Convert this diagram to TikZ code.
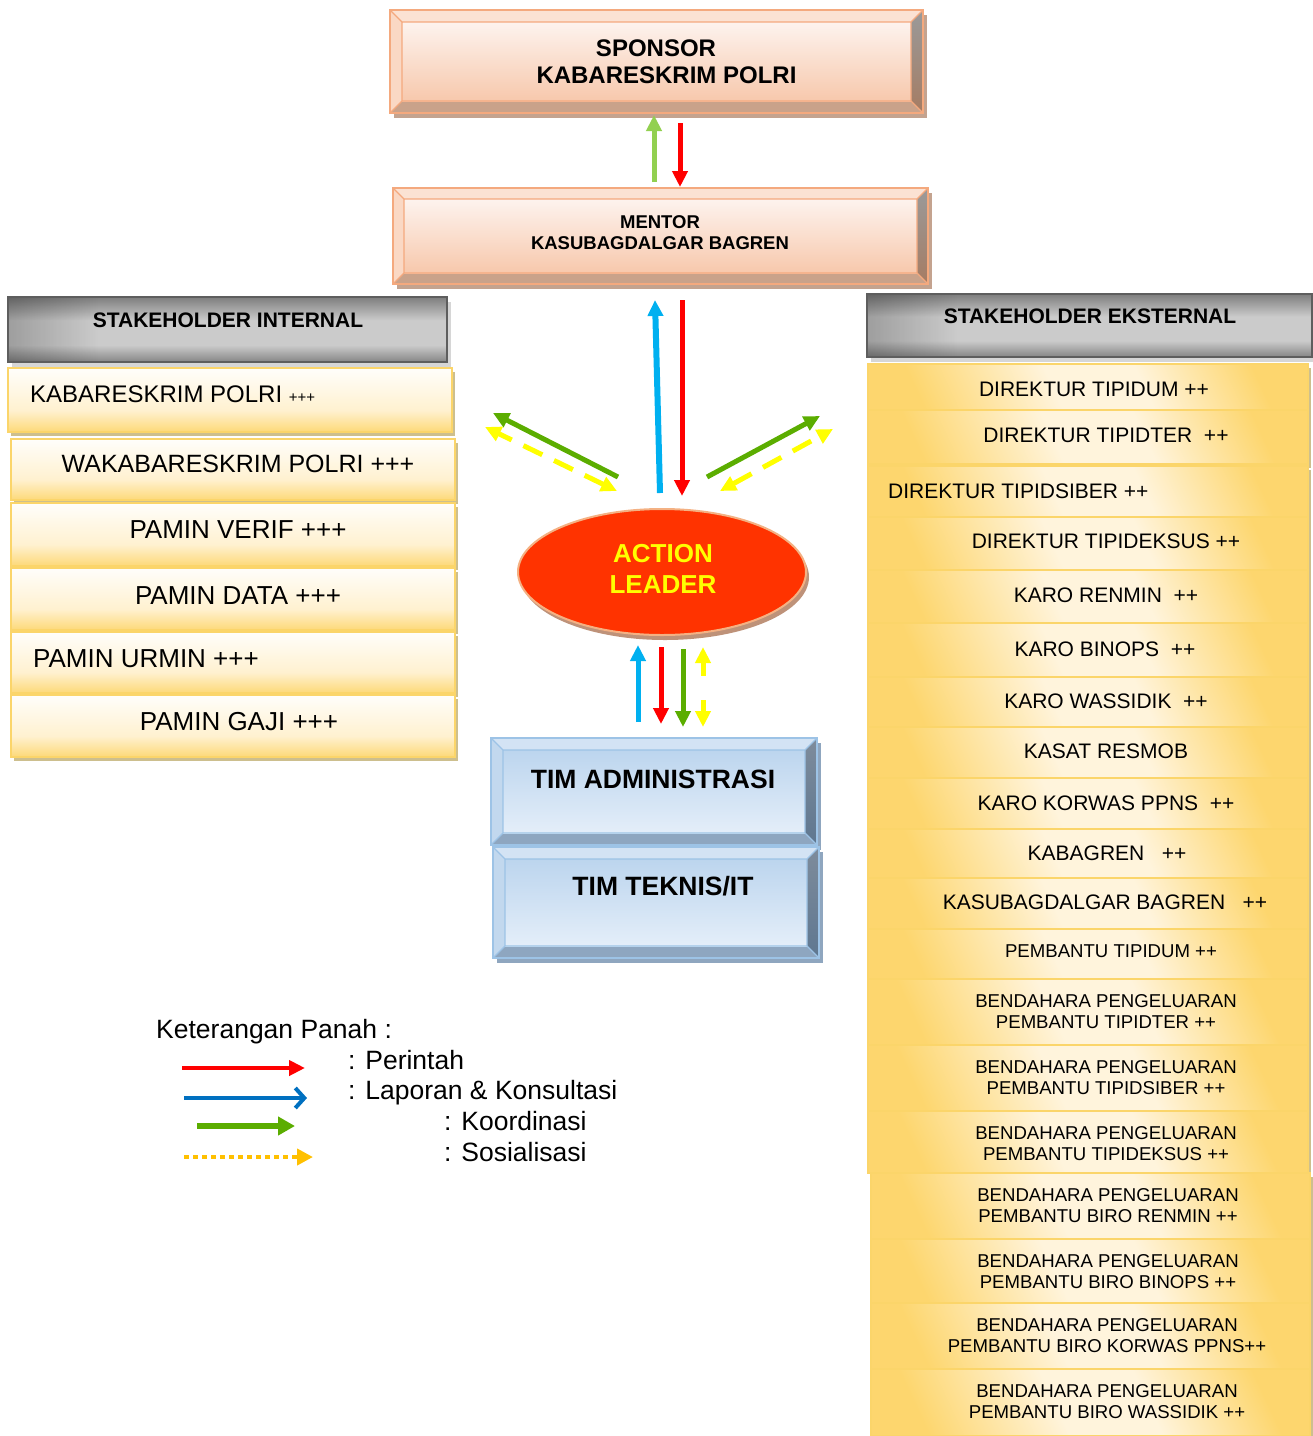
\documentclass[tikz,border=0pt]{standalone}
\usepackage{fontspec}
\setmainfont{Liberation Sans}
\usetikzlibrary{shapes.geometric,arrows.meta,calc,fadings}
\definecolor{peachSh}{HTML}{C4A38F}
\definecolor{peachTop}{HTML}{FBE2D3}
\definecolor{peachLeft}{HTML}{FAD8C4}
\definecolor{peachBot}{HTML}{C9A28A}
\definecolor{peachRightA}{HTML}{9A9A9A}
\definecolor{peachRightB}{HTML}{A57C63}
\definecolor{peachFA}{HTML}{FDF3EE}
\definecolor{peachFB}{HTML}{F7C8AC}
\definecolor{peachBd}{HTML}{F4A97E}
\definecolor{blueSh}{HTML}{8FA6BF}
\definecolor{blueTop}{HTML}{D3E3F4}
\definecolor{blueLeft}{HTML}{C2D8EE}
\definecolor{blueBot}{HTML}{8EA6C0}
\definecolor{blueRightA}{HTML}{7E8C9C}
\definecolor{blueRightB}{HTML}{5F7790}
\definecolor{blueFA}{HTML}{BCD5EE}
\definecolor{blueFB}{HTML}{E4EEF9}
\definecolor{blueBd}{HTML}{9DC3E6}
\definecolor{yTop}{HTML}{FFFEFB}
\definecolor{yMid}{HTML}{FFF1D0}
\definecolor{yBot}{HTML}{FDD978}
\definecolor{yGold}{HTML}{FDD66E}
\definecolor{yLight}{HTML}{FFF4DC}
\definecolor{yBd}{HTML}{FBD56A}
\definecolor{ySh}{HTML}{CDBF8E}
\definecolor{gA}{HTML}{7E7E7E}
\definecolor{gB}{HTML}{CBCBCB}
\definecolor{gC}{HTML}{858585}
\definecolor{gBd}{HTML}{5E5E5E}
\definecolor{gSh}{HTML}{D6D6D6}
\definecolor{alFill}{HTML}{FF3300}
\definecolor{alBd}{HTML}{F4B183}
\definecolor{alSh}{HTML}{BE9279}
\definecolor{aRed}{HTML}{FF0000}
\definecolor{aBlue}{HTML}{00B0F0}
\definecolor{aGreen}{HTML}{5BAD00}
\definecolor{aLGreen}{HTML}{92D050}
\definecolor{aYel}{HTML}{FFFF00}
\definecolor{lBlue}{HTML}{0070C0}
\definecolor{lYel}{HTML}{FFC000}

\pgfdeclareverticalshading{yint}{100bp}{color(0bp)=(yBot); color(25bp)=(yBot); color(42bp)=(yMid); color(75bp)=(yTop); color(100bp)=(yTop)}
\pgfdeclareverticalshading{ghead}{100bp}{color(0bp)=(gC); color(25bp)=(gC); color(38bp)=(gB); color(57bp)=(gB); color(75bp)=(gA); color(100bp)=(gA)}
\pgfdeclarehorizontalshading{yext}{100bp}{color(0bp)=(yGold); color(25bp)=(yGold); color(45bp)=(yLight); color(58bp)=(yLight); color(75bp)=(yGold); color(100bp)=(yGold)}
\tikzfading[name=leftdark, left color=transparent!0, right color=transparent!100]

\tikzset{
  boxnode/.style={inner sep=0, outer sep=0, draw=none},
  txt/.style={inner sep=0, align=center, text=black},
  yfillI/.style={shading=yint},
  yfillE/.style={shading=yext, shading angle=25},
  arr/.style={line width=5, -{Triangle[width=15pt,length=16pt]}},
  darr/.style={line width=5, dash pattern=on 21pt off 13pt, {Triangle[width=15pt,length=16pt]}-{Triangle[width=15pt,length=16pt]}},
}

% bevel box: #1 palette, #2 name, #3 x1, #4 y1, #5 x2, #6 y2, #7 bevel
\newcommand\bevelbox[7]{%
  \fill[#1Sh] ({#3+4},{#4+5}) rectangle ({#5+4},{#6+5});
  \fill[#1Top] (#3,#4) -- (#5,#4) -- ({#5-#7},{#4+#7}) -- ({#3+#7},{#4+#7}) -- cycle;
  \fill[#1Left] (#3,#4) -- ({#3+#7},{#4+#7}) -- ({#3+#7},{#6-#7}) -- (#3,#6) -- cycle;
  \fill[#1Bot] (#3,#6) -- ({#3+#7},{#6-#7}) -- ({#5-#7},{#6-#7}) -- (#5,#6) -- cycle;
  \shade[top color=#1RightA, bottom color=#1RightB] (#5,#4) -- (#5,#6) -- ({#5-#7},{#6-#7}) -- ({#5-#7},{#4+#7}) -- cycle;
  \shade[top color=#1FA, bottom color=#1FB] ({#3+#7},{#4+#7}) rectangle ({#5-#7},{#6-#7});
  \draw[#1Bd, line width=1.3] ({#3+#7},{#4+#7}) rectangle ({#5-#7},{#6-#7})
     (#3,#4) -- ({#3+#7},{#4+#7}) (#5,#4) -- ({#5-#7},{#4+#7})
     (#3,#6) -- ({#3+#7},{#6-#7}) (#5,#6) -- ({#5-#7},{#6-#7});
  \draw[#1Bd, line width=2.5] (#3,#4) rectangle (#5,#6);
  \node[boxnode, minimum width={#5-#3}, minimum height={#6-#4}] (#2) at ({(#3+#5)/2},{(#4+#6)/2}) {};
}
% yellow box: [#1 style], #2 name, #3 x1, #4 y1, #5 x2, #6 y2
\newcommand\ybox[6][yfillI]{%
  \fill[ySh] ({#3+3},{#4+4}) rectangle ({#5+3},{#6+4});
  \shade[#1] (#3,#4) rectangle (#5,#6);
  \draw[yBd, line width=1.5] (#3,#4) rectangle (#5,#6);
  \node[boxnode, minimum width={#5-#3}, minimum height={#6-#4}] (#2) at ({(#3+#5)/2},{(#4+#6)/2}) {};
}
% gray header: #1 name, #2 x1, #3 y1, #4 x2, #5 y2
\newcommand\grayhead[5]{%
  \fill[gSh] ({#2+4},{#3+5}) rectangle ({#4+4},{#5+5});
  \shade[shading=ghead] (#2,#3) rectangle (#4,#5);
  \fill[black, opacity=0.22, path fading=leftdark] (#2,#3) rectangle ({#2+90},{#5});
  \draw[gBd, line width=2] (#2,#3) rectangle (#4,#5);
  \node[boxnode, minimum width={#4-#2}, minimum height={#5-#3}] (#1) at ({(#2+#4)/2},{(#3+#5)/2}) {};
}

\begin{document}
\begin{tikzpicture}[x=1pt,y=-1pt]
\useasboundingbox (0,0) rectangle (1313,1436);

% ---------- top boxes ----------
\bevelbox{peach}{sponsor}{390}{10}{923}{113}{12}
\node[txt, font=\bfseries\fontsize{24}{27}\selectfont] (tsponsor) at (656,48) {SPONSOR};
\node[txt, font=\bfseries\fontsize{24}{27}\selectfont] (tsponsorb) at (666.5,75) {KABARESKRIM POLRI};
\bevelbox{peach}{mentor}{393}{188}{928}{284}{11}
\node[txt, font=\bfseries\fontsize{18.5}{21}\selectfont] (tmentor) at (660,232.5) {MENTOR\\KASUBAGDALGAR BAGREN};

% ---------- internal stakeholders ----------
\grayhead{hint}{8}{297}{447}{362}
\node[txt, font=\bfseries\fontsize{21}{24}\selectfont] (thint) at (228,320) {STAKEHOLDER INTERNAL};
\ybox{i1}{8}{368}{452}{432}
\ybox{i2}{11}{439}{455}{500}
\ybox{i3}{11}{503}{455}{566}
\ybox{i4}{11}{568}{455}{630}
\ybox{i5}{11}{632}{455}{693}
\ybox{i6}{11}{695}{455}{757}
\node[txt, anchor=west, font=\fontsize{24}{28}\selectfont] (ti1) at (30,394) {KABARESKRIM POLRI {\fontsize{15}{16}\selectfont +++}};
\node[txt, font=\fontsize{25}{28}\selectfont] (ti2) at (238,464) {WAKABARESKRIM POLRI +++};
\node[txt, font=\fontsize{26}{28}\selectfont] (ti3) at (238,530) {PAMIN VERIF +++};
\node[txt, font=\fontsize{26}{28}\selectfont] (ti4) at (238,596) {PAMIN DATA +++};
\node[txt, anchor=west, font=\fontsize{26}{28}\selectfont] (ti5) at (33,659) {PAMIN URMIN +++};
\node[txt, font=\fontsize{26}{28}\selectfont] (ti6) at (239,722) {PAMIN GAJI +++};

% ---------- external stakeholders ----------
\grayhead{hext}{867}{294}{1312}{357}
\node[txt, font=\bfseries\fontsize{21}{24}\selectfont] (thext) at (1090,316) {STAKEHOLDER EKSTERNAL};
\ybox[yfillE]{e1}{868}{364}{1308}{410}
\ybox[yfillE]{e2}{868}{410}{1308}{464}
\ybox[yfillE]{e3}{868}{466}{1308}{517}
\ybox[yfillE]{e4}{868}{517}{1308}{570}
\ybox[yfillE]{e5}{868}{570}{1308}{623}
\ybox[yfillE]{e6}{868}{623}{1308}{677}
\ybox[yfillE]{e7}{868}{677}{1308}{727}
\ybox[yfillE]{e8}{868}{727}{1308}{778}
\ybox[yfillE]{e9}{868}{778}{1308}{829}
\ybox[yfillE]{e10}{868}{829}{1308}{878}
\ybox[yfillE]{e11}{868}{878}{1308}{929}
\ybox[yfillE]{e12}{868}{929}{1308}{979}
\ybox[yfillE]{e13}{868}{979}{1308}{1045}
\ybox[yfillE]{e14}{868}{1045}{1308}{1111}
\ybox[yfillE]{e15}{868}{1111}{1308}{1173}
\ybox[yfillE]{e16}{871}{1173}{1310}{1239}
\ybox[yfillE]{e17}{871}{1239}{1310}{1303}
\ybox[yfillE]{e18}{871}{1303}{1310}{1369}
\ybox[yfillE]{e19}{871}{1369}{1310}{1436}
\begin{scope}[every node/.style={txt, font=\fontsize{21}{24}\selectfont}]
\node (te1) at (1094,389) {DIREKTUR TIPIDUM ++};
\node (te2) at (1106,435) {DIREKTUR TIPIDTER~ ++};
\node[anchor=west] (te3) at (888,491) {DIREKTUR TIPIDSIBER ++};
\node (te4) at (1106,541) {DIREKTUR TIPIDEKSUS ++};
\node (te5) at (1106,595) {KARO RENMIN~ ++};
\node (te6) at (1105,649) {KARO BINOPS~ ++};
\node (te7) at (1106,701) {KARO WASSIDIK~ ++};
\node (te8) at (1106,751) {KASAT RESMOB};
\node (te9) at (1106,803) {KARO KORWAS PPNS~ ++};
\node (te10) at (1107,853) {KABAGREN~~ ++};
\node (te11) at (1105,902) {KASUBAGDALGAR BAGREN~~ ++};
\end{scope}
\begin{scope}[every node/.style={txt, font=\fontsize{18.6}{21}\selectfont}]
\node (te12) at (1111,951) {PEMBANTU TIPIDUM ++};
\node (te13) at (1106,1011.5) {BENDAHARA PENGELUARAN\\PEMBANTU TIPIDTER ++};
\node (te14) at (1106,1077.5) {BENDAHARA PENGELUARAN\\PEMBANTU TIPIDSIBER ++};
\node (te15) at (1106,1143.5) {BENDAHARA PENGELUARAN\\PEMBANTU TIPIDEKSUS ++};
\node (te16) at (1108,1205.5) {BENDAHARA PENGELUARAN\\PEMBANTU BIRO RENMIN ++};
\node (te17) at (1108,1271.5) {BENDAHARA PENGELUARAN\\PEMBANTU BIRO BINOPS ++};
\node (te18) at (1107,1335.5) {BENDAHARA PENGELUARAN\\PEMBANTU BIRO KORWAS PPNS++};
\node (te19) at (1107,1401.5) {BENDAHARA PENGELUARAN\\PEMBANTU BIRO WASSIDIK ++};
\end{scope}

% ---------- action leader ----------
\fill[alSh] (665,577) ellipse [x radius=144, y radius=63];
\node[ellipse, draw=alBd, line width=2, fill=alFill, minimum width=288, minimum height=126, inner sep=0] (al) at (662,572) {};
\node[txt, text=aYel, font=\bfseries\fontsize{26}{31}\selectfont] (tal) at (663,568.5) {ACTION\\LEADER};

% ---------- tim boxes ----------
\bevelbox{blue}{timA}{491}{738}{817}{845}{12}
\bevelbox{blue}{timT}{493}{847}{819}{958}{12}
\node[txt, font=\bfseries\fontsize{26.5}{30}\selectfont] (ttimA) at (653,779) {TIM ADMINISTRASI};
\node[txt, font=\bfseries\fontsize{26.5}{30}\selectfont] (ttimT) at (663,886) {TIM TEKNIS/IT};

% ---------- arrows ----------
\draw[arr, aLGreen] ($(mentor.north)+(-6.5,-6)$) -- ($(sponsor.south)+(-2.5,2)$);
\draw[arr, aRed] ($(sponsor.south)+(23.5,10)$) -- ($(mentor.north)+(19.5,-1)$);

\draw[arr, aBlue, line width=6] ($(al.north)+(-2,-15)$) -- ($(mentor.south)+(-5.5,16)$);
\draw[arr, aRed] ($(mentor.south)+(21.5,16)$) -- ($(al.north)+(20,-12)$);

\draw[arr, aGreen] ($(al.north)+(-44,-31)$) -- ($(al.north)+(-169,-95)$);
\draw[darr, aYel] ($(al.north)+(-45,-17)$) -- ($(al.north)+(-177,-81)$);
\draw[arr, aGreen] ($(al.north)+(45,-31)$) -- ($(al.north)+(158,-92)$);
\draw[darr, aYel] ($(al.north)+(58,-17)$) -- ($(al.north)+(171,-79)$);

\draw[arr, aBlue] ($(timA.north)+(-16,-16)$) -- ($(al.south)+(-24,9)$);
\draw[arr, aRed] ($(al.south)+(-1,11)$) -- ($(timA.north)+(7,-14)$);
\draw[arr, aGreen] ($(al.south)+(21,13)$) -- ($(timA.north)+(29,-11)$);
\draw[darr, aYel, dash pattern=on 14pt off 24pt] ($(al.south)+(41,11)$) -- ($(timA.north)+(49,-11)$);

% ---------- legend ----------
\node[txt, anchor=base west, font=\fontsize{26.5}{30}\selectfont] (lgtitle) at (156,1038) {Keterangan Panah :};
\coordinate (lr1) at (182,1068); \coordinate (lr2) at (305,1068);
\coordinate (lb1) at (184,1098); \coordinate (lb2) at (307,1098);
\coordinate (lg1) at (197,1126); \coordinate (lg2) at (295,1126);
\coordinate (ly1) at (184,1157); \coordinate (ly2) at (313,1157);
\draw[aRed, line width=4, -{Triangle[width=15pt,length=16pt]}] (lr1) -- (lr2);
\draw[lBlue, line width=4, -{Straight Barb[width=20pt,length=9pt,line width=4pt]}] (lb1) -- (lb2);
\draw[aGreen, line width=6, -{Triangle[width=18pt,length=17pt]}] (lg1) -- (lg2);
\draw[lYel, line width=4.5, dash pattern=on 5pt off 4pt, -{Triangle[width=16pt,length=16pt]}] (ly1) -- (ly2);
\begin{scope}[every node/.style={txt, anchor=base west, font=\fontsize{26.5}{30}\selectfont}]
\node (lt1) at (348,1069) {: Perintah};
\node (lt2) at (348,1099) {: Laporan \& Konsultasi};
\node (lt3) at (444,1130) {: Koordinasi};
\node (lt4) at (444,1161) {: Sosialisasi};
\end{scope}
\end{tikzpicture}
\end{document}
